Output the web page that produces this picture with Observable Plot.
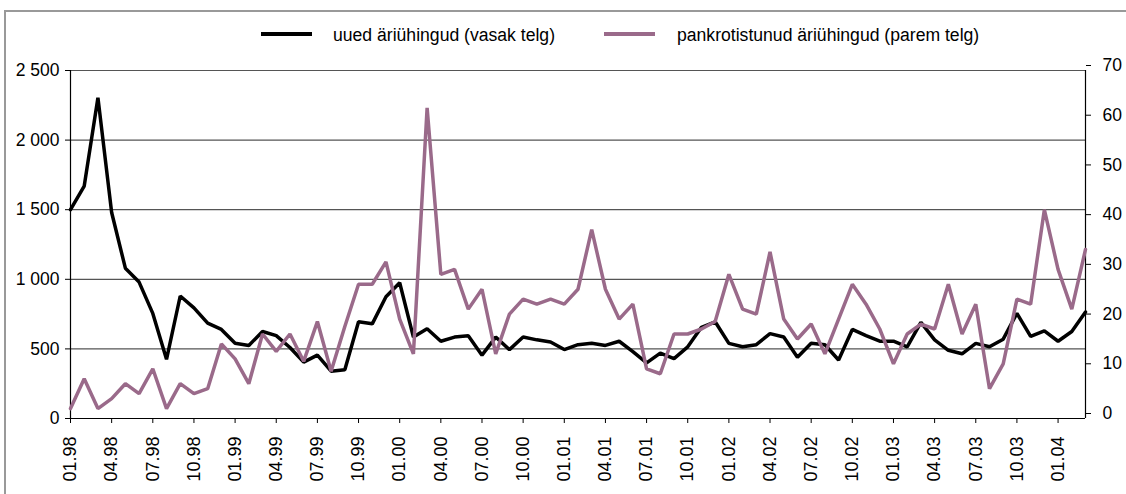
<!DOCTYPE html>
<html>
<head>
<meta charset="utf-8">
<script src="https://cdn.jsdelivr.net/npm/d3@7"></script>
<script src="https://cdn.jsdelivr.net/npm/@observablehq/plot@0.6"></script>
<style>
  html, body { margin: 0; padding: 0; background: #fff; }
  #wrap { position: relative; width: 1126px; height: 494px; overflow: hidden; font-family: "Liberation Sans", Arial, sans-serif; }
  #frame { position: absolute; left: 4px; top: 10px; width: 1300px; height: 700px; border-left: 2px solid #999; border-top: 2px solid #999; pointer-events: none; }
  #chart { position: absolute; left: 0; top: 0; }
  .legend { position: absolute; top: 25px; font-size: 17.6px; color: #000; white-space: nowrap; line-height: 20px; }
  .sw { position: absolute; height: 4px; width: 51px; top: 7px; }
</style>
</head>
<body>
<div id="wrap">
  <div id="frame"></div>
  <div id="chart"></div>
  <div class="legend" style="left:261px"><span class="sw" style="left:0;background:#000"></span><span style="position:absolute;left:72px">uued äriühingud (vasak telg)</span></div>
  <div class="legend" style="left:604px"><span class="sw" style="left:0;background:#9a6a8a"></span><span style="position:absolute;left:73px">pankrotistunud äriühingud (parem telg)</span></div>
</div>
<script>
const months = [
  "01.98","02.98","03.98","04.98","05.98","06.98","07.98","08.98","09.98","10.98","11.98","12.98",
  "01.99","02.99","03.99","04.99","05.99","06.99","07.99","08.99","09.99","10.99","11.99","12.99",
  "01.00","02.00","03.00","04.00","05.00","06.00","07.00","08.00","09.00","10.00","11.00","12.00",
  "01.01","02.01","03.01","04.01","05.01","06.01","07.01","08.01","09.01","10.01","11.01","12.01",
  "01.02","02.02","03.02","04.02","05.02","06.02","07.02","08.02","09.02","10.02","11.02","12.02",
  "01.03","02.03","03.03","04.03","05.03","06.03","07.03","08.03","09.03","10.03","11.03","12.03",
  "01.04","02.04","03.04"
];
// uued äriühingud (vasak telg)
const newCompanies = [
  1500,1670,2305,1480,1080,980,755,425,880,795,685,640,
  540,525,625,595,510,405,455,340,350,695,680,875,
  975,585,645,555,585,595,455,585,495,585,565,550,
  495,530,540,525,555,480,400,470,430,515,655,695,
  540,515,530,610,585,440,540,530,420,640,595,555,
  555,515,690,565,490,465,540,515,570,755,590,630,
  555,625,765
];
// pankrotistunud äriühingud (parem telg)
const bankruptcies = [
  2,8,2,4,7,5,10,2,7,5,6,15,
  12,7,17,13.5,17,11.5,19.5,9.5,18.5,27,27,31.5,
  20,13,62.5,29,30,22,26,13,21,24,23,24,
  23,26,38,26,20,23,10,9,17,17,18,19.5,
  29,22,21,33.5,20,16,19,13,20,27,23,18,
  11,17,19,18,27,17,23,6,11,24,23,42,
  30,22,34
];
const leftTicks = [0, 500, 1000, 1500, 2000, 2500];
const rightTicks = [0, 10, 20, 30, 40, 50, 60, 70];
const leftMax = 2500, rightMax = 70;
const k = leftMax / rightMax;

const data = months.map((m, i) => ({m, a: newCompanies[i], b: bankruptcies[i] * k}));
const xTicks = months.filter((_, i) => i % 3 === 0);
const lastMonth = months[months.length - 1];
const fmt = d => d3.format(",")(d).replace(/,/g, " ");

const chart = Plot.plot({
  width: 1126,
  height: 494,
  marginLeft: 70,
  marginRight: 41,
  marginTop: 70,
  marginBottom: 76,
  style: {fontFamily: "'Liberation Sans', Arial, sans-serif", fontSize: "17px", color: "#000", background: "transparent", overflow: "visible"},
  x: {type: "point", domain: months, padding: 0},
  y: {domain: [0, leftMax]},
  marks: [
    Plot.ruleY(leftTicks.filter(d => d > 0), {stroke: "#555", strokeWidth: 1.2}),
    Plot.axisY({ticks: leftTicks, tickFormat: fmt, tickSize: 5, tickPadding: 6, label: null, fontSize: 17.5}),
    Plot.axisY({anchor: "right", ticks: rightTicks.map(v => v * k), tickFormat: d => Math.round(d / k), tickSize: 5, tickPadding: 12, dy: -5, label: null, fontSize: 17.5}),
    Plot.ruleY(rightTicks.map(v => v * k), {x1: lastMonth, x2: lastMonth, insetLeft: -5, stroke: "#000"}),
    Plot.axisX({ticks: xTicks, tickRotate: -90, tickSize: 5, tickPadding: 13, label: null, fontSize: 18}),
    Plot.ruleX([months[0], lastMonth], {stroke: "#000", strokeWidth: 1.2}),
    Plot.ruleY([0], {stroke: "#000", strokeWidth: 1.2}),
    Plot.line(data, {x: "m", y: "a", stroke: "#000", strokeWidth: 3.5, strokeLinejoin: "miter"}),
    Plot.line(data, {x: "m", y: "b", stroke: "#9a6a8a", strokeWidth: 3.5, strokeLinejoin: "miter"})
  ]
});
document.getElementById("chart").appendChild(chart);
</script>
</body>
</html>
